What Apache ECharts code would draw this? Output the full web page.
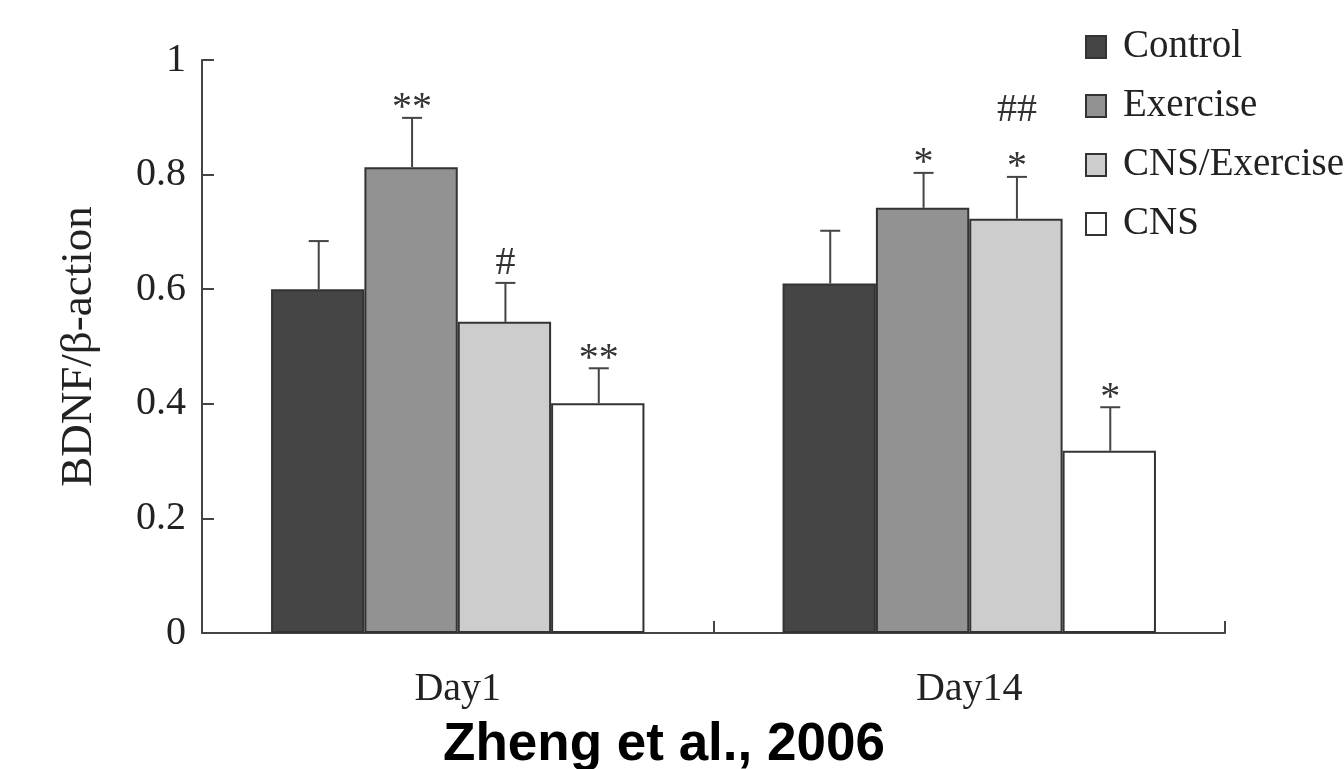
<!DOCTYPE html>
<html><head><meta charset="utf-8">
<script src="https://cdn.jsdelivr.net/npm/echarts@6/dist/echarts.min.js"></script>
<style>html,body{margin:0;padding:0;background:#fff}#c{width:1344px;height:769px}</style>
</head><body><div id="c"></div>
<script>
const categories = ['Day1', 'Day14'];
const seriesNames = ['Control', 'Exercise', 'CNS/Exercise', 'CNS'];
const control = [0.600, 0.610];
const exercise = [0.813, 0.742];
const cnsExercise = [0.543, 0.723];
const cns = [0.401, 0.318];
const controlErr = [0.084, 0.092];
const exerciseErr = [0.086, 0.061];
const cnsExerciseErr = [0.068, 0.073];
const cnsErr = [0.061, 0.076];
const controlMarks = ['', ''];
const exerciseMarks = ['**', '*'];
const cnsExerciseMarks = ['#', '##\n*'];
const cnsMarks = ['**', '*'];
const yTicks = [0, 0.2, 0.4, 0.6, 0.8, 1];
const footnote = 'Zheng et al., 2006';

const colors = ['#454545', '#929292', '#cdcdcd', '#ffffff'];
const values = [control, exercise, cnsExercise, cns];
const errs = [controlErr, exerciseErr, cnsExerciseErr, cnsErr];
const marks = [controlMarks, exerciseMarks, cnsExerciseMarks, cnsMarks];
const GAP = 0.27;
const serif = '"Liberation Serif", "DejaVu Serif", serif';

const errData = [];
for (let s = 0; s < 4; s++) for (let c = 0; c < categories.length; c++)
  errData.push([c, values[s][c], errs[s][c], s, marks[s][c]]);

const series = seriesNames.map((n, i) => ({
  name: n, type: 'bar', data: values[i], barGap: '0%', barCategoryGap: (GAP*100)+'%',
  itemStyle: { color: colors[i], borderColor: '#333', borderWidth: 2 }, z: 2
}));
series.push({
  type: 'custom', z: 5, silent: true,
  data: errData,
  renderItem: function (params, api) {
    const c = api.value(0), v = api.value(1), e = api.value(2), s = api.value(3);
    const mark = errData[params.dataIndex][4];
    const bw = api.size([1, 0])[0] * (1 - GAP) / 4;
    const base = api.coord([c, v]);
    const top = api.coord([c, v + e]);
    const x = base[0] + (s - 1.5) * bw + 1;
    const cap = 10;
    const children = [
      { type: 'line', shape: { x1: x, y1: base[1], x2: x, y2: top[1] }, style: { stroke: '#444', lineWidth: 2 } },
      { type: 'line', shape: { x1: x - cap, y1: top[1], x2: x + cap, y2: top[1] }, style: { stroke: '#444', lineWidth: 2 } }
    ];
    if (mark) {
      const lines = mark.split('\n').reverse();
      lines.forEach(function (ln, k) {
        const off = ln.charAt(0) === '#' ? -19 : -9;
        children.push({ type: 'text', x: x, y: top[1] + off - k * 47, style: {
          text: ln, fill: '#333', font: '40px ' + serif, align: 'center', verticalAlign: 'middle' } });
      });
    }
    return { type: 'group', children: children };
  }
});

const chart = echarts.init(document.getElementById('c'));
chart.setOption({
  animation: false,
  backgroundColor: '#fff',
  graphic: [{
    type: 'text', x: 664, y: 745,
    style: { text: footnote, fill: '#000', font: 'bold 53px "Liberation Sans", Arial, sans-serif',
      align: 'center', verticalAlign: 'middle' }
  }],
  legend: {
    data: seriesNames, orient: 'vertical', left: 1080, top: 22, icon: 'rect',
    itemWidth: 20, itemHeight: 22, itemGap: 19,
    textStyle: { fontFamily: serif, fontSize: 39, color: '#222', lineHeight: 40, padding: [0, 0, 0, 12] }
  },
  grid: { left: 202, right: 119, top: 60, bottom: 136 },
  xAxis: {
    type: 'category', data: categories,
    axisLine: { lineStyle: { color: '#444', width: 2 } },
    axisTick: { show: true, alignWithLabel: false, inside: true, length: 12, lineStyle: { color: '#444', width: 2 } },
    axisLabel: { fontFamily: serif, fontSize: 40, color: '#222', margin: 36 }
  },
  yAxis: {
    type: 'value', min: 0, max: 1, interval: 0.2,
    name: 'BDNF/β-action', nameLocation: 'middle', nameRotate: 90, nameGap: 100,
    nameTextStyle: { fontFamily: serif, fontSize: 45, color: '#222' },
    axisLine: { show: true, lineStyle: { color: '#444', width: 2 } },
    axisTick: { show: true, inside: true, length: 12, lineStyle: { color: '#444', width: 2 } },
    splitLine: { show: false },
    axisLabel: { fontFamily: serif, fontSize: 40, color: '#222', margin: 16,
      formatter: function (v) { return String(+v.toFixed(1)); } }
  },
  series: series
});
</script></body></html>
